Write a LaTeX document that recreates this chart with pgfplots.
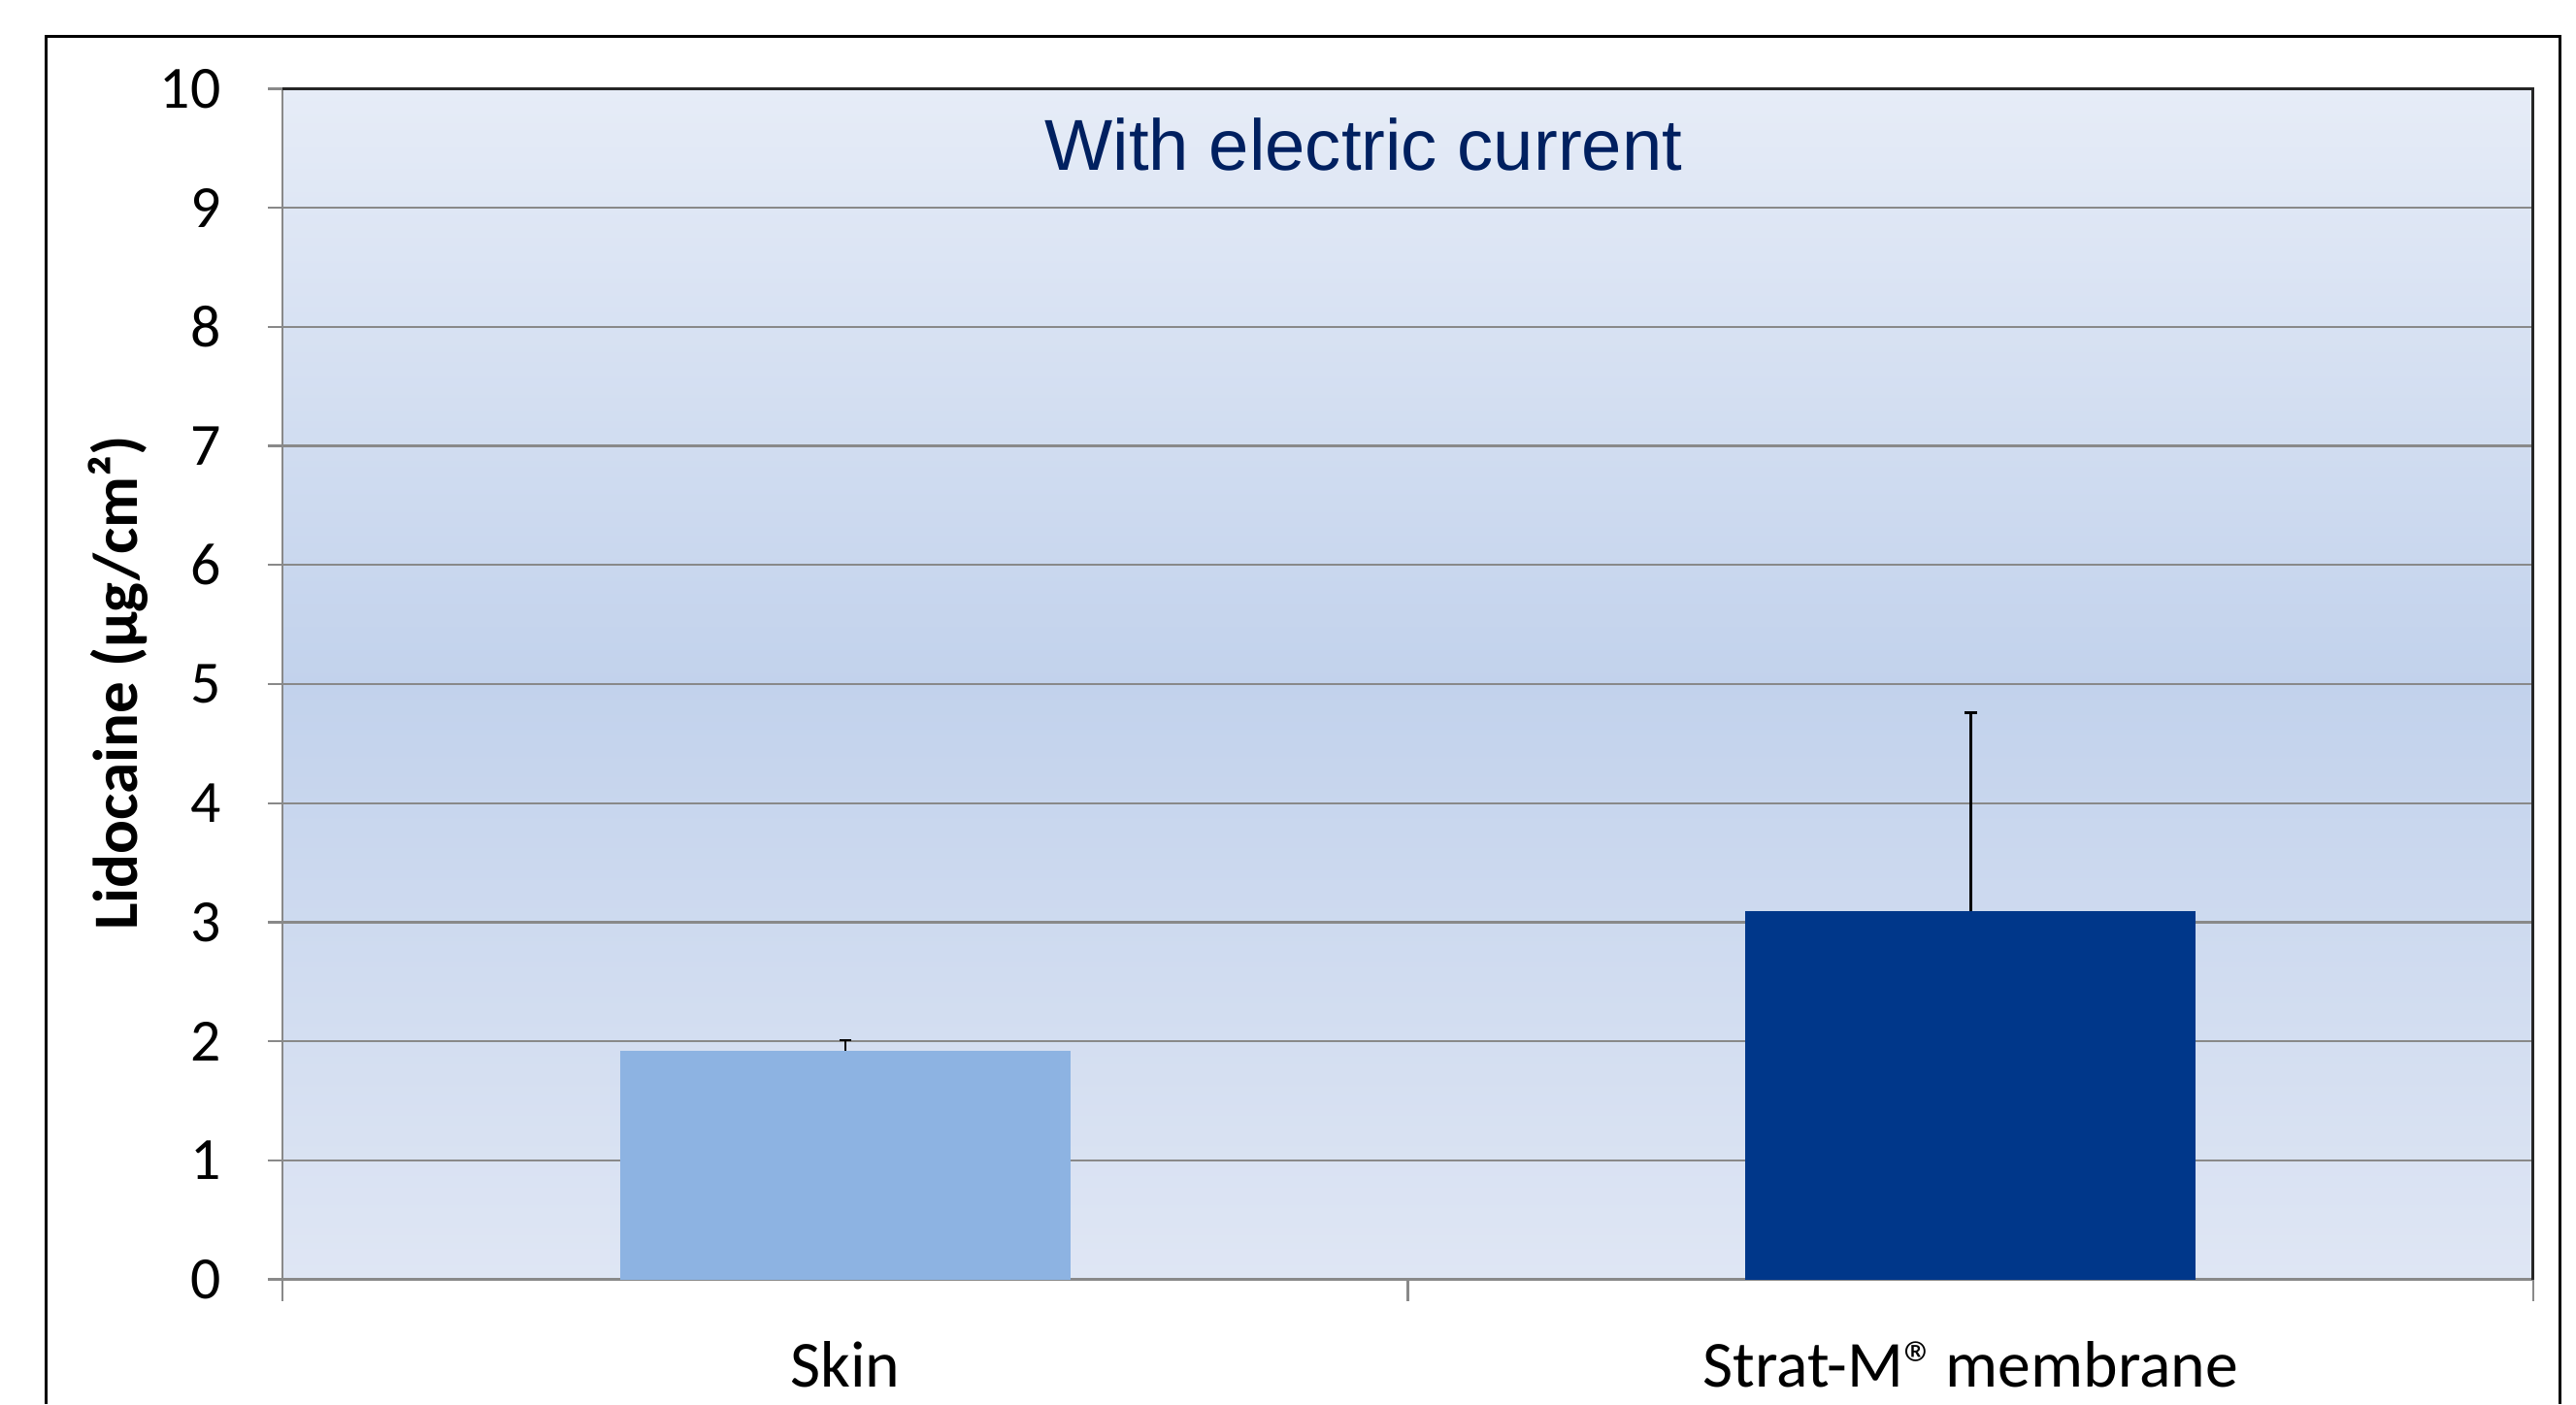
\documentclass[border=0pt]{standalone}
\usepackage{pgfplots}
\pgfplotsset{compat=1.18}
\usepackage{fontspec}
\setmainfont{Carlito}
\newfontfamily\arialfont{Liberation Sans}
\definecolor{bgtop}{HTML}{E6ECF7}
\definecolor{bgmid}{HTML}{C2D2EC}
\definecolor{bgbot}{HTML}{DFE6F4}
\definecolor{gridgray}{HTML}{898989}
\definecolor{skinblue}{HTML}{8DB3E2}
\definecolor{stratblue}{HTML}{00378A}
\definecolor{titleblue}{HTML}{002060}
\begin{document}
\begin{tikzpicture}
\path[use as bounding box] (-43.88pt,-19.39pt) rectangle (356.12pt,198.72pt);
\begin{axis}[
  at={(0,0)}, anchor=south west,
  scale only axis,
  width=349.49pt, height=184.95pt,
  xmin=-0.5, xmax=1.5,
  ymin=0, ymax=10,
  ytick={0,1,...,10},
  xtick=\empty,
  extra x ticks={0,1},
  extra x tick labels={Skin, {Strat-M®\kern-0.9pt\ membrane}},
  extra x tick style={major tick length=0pt, grid=none, tick style={draw=none}},
  ymajorgrids,
  major grid style={gridgray, line width=0.35pt},
  tick align=outside,
  xtick pos=bottom, ytick pos=left,
  major tick length=2.3pt,
  y tick style={gridgray, line width=0.35pt},
  axis line style={gridgray, line width=0.4pt},
  axis background/.style={shade, top color=bgtop, bottom color=bgbot, middle color=bgmid},
  /pgf/number format/assume math mode=true,
  yticklabel style={font=\fontsize{9.3}{11}\selectfont, anchor=east, inner sep=0pt, xshift=-7.1pt},
  xticklabel style={font=\fontsize{10.2}{12}\selectfont, anchor=base, inner sep=0pt, yshift=-16.8pt},
  ybar, bar width=0.4, bar shift=0pt,
  clip=false,
]
\addplot[fill=skinblue, draw=none, bar shift=0pt,
  error bars/.cd, y dir=plus, y explicit,
  error bar style={black, line width=0.4pt},
  error mark options={rotate=90, mark size=0.95pt, black, line width=0.4pt}]
  coordinates {(0,1.92) +- (0,0.09)};
\addplot[fill=stratblue, draw=none, bar shift=0pt,
  error bars/.cd, y dir=plus, y explicit,
  error bar style={black, line width=0.4pt},
  error mark options={rotate=90, mark size=0.95pt, black, line width=0.4pt}]
  coordinates {(1,3.09) +- (0,1.67)};
\draw[black!85, line width=0.45pt] (rel axis cs:0,1) -- (rel axis cs:1,1) -- (rel axis cs:1,0);
\draw[gridgray, line width=0.35pt] (axis cs:-0.5,0) -- ([yshift=-3.4pt]axis cs:-0.5,0);
\draw[gridgray, line width=0.35pt] (axis cs:0.5,0) -- ([yshift=-3.4pt]axis cs:0.5,0);
\draw[gridgray, line width=0.35pt] (axis cs:1.5,0) -- ([yshift=-3.4pt]axis cs:1.5,0);
\node[font=\arialfont\fontsize{11.2}{13}\selectfont, text=titleblue] at (rel axis cs:0.4803,0.953) {With electric current};
\end{axis}
\node[rotate=90, font=\bfseries\fontsize{9.8}{12}\selectfont] at (-25.51pt,92.6pt) {Lidocaine (µg/cm²)};
\draw[black, line width=0.45pt] (-36.73pt,-19.39pt) -- (-36.73pt,193.11pt) -- (353.57pt,193.11pt) -- (353.57pt,-19.39pt);
\end{tikzpicture}
\end{document}
